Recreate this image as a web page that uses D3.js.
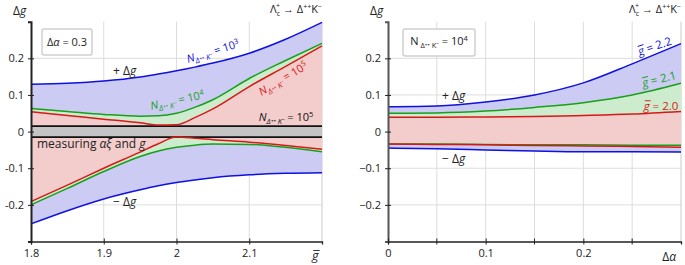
<!DOCTYPE html>
<html><head><meta charset="utf-8">
<script src="https://cdn.jsdelivr.net/npm/d3@7"></script>
<style>
body{margin:0;background:#fff;}
svg{font-family:"Open Sans","Noto Sans",sans-serif;}
</style></head>
<body><svg id="c" width="685" height="265"></svg>
<script>
// ---- Left panel data (x = gbar) ----
const gbar = [1.8, 1.85, 1.9, 1.95, 1.975, 2.0, 2.025, 2.05, 2.1, 2.15, 2.2];
const blueUpL  = [0.129, 0.132, 0.138, 0.149, 0.157, 0.166, 0.176, 0.187, 0.214, 0.252, 0.298];
const blueLoL  = [-0.252, -0.216, -0.184, -0.159, -0.148, -0.139, -0.132, -0.126, -0.118, -0.114, -0.112];
const greenUpL = [0.063, 0.055, 0.047, 0.042, 0.043, 0.050, 0.066, 0.087, 0.145, 0.194, 0.241];
const greenLoL = [-0.200, -0.155, -0.109, -0.068, -0.053, -0.043, -0.037, -0.034, -0.035, -0.043, -0.055];
const redUpL   = [0.054, 0.044, 0.034, 0.024, 0.018, 0.019, 0.038, 0.062, 0.123, 0.178, 0.234];
const redLoL   = [-0.191, -0.146, -0.100, -0.056, -0.033, -0.015, -0.018, -0.022, -0.029, -0.038, -0.048];
const bandLimits = [-0.015, 0.015];
const xTicksL = [1.8, 1.9, 2.0, 2.1];
const xTickLabelsL = ["1.8", "1.9", "2", "2.1"];
const yTicks = [-0.2, -0.1, 0, 0.1, 0.2];
const yTickLabelsL = ["-0.2", "-0.1", "0", "0.1", "0.2"];
const yTickLabelsR = ["\u22120.2", "\u22120.1", "0", "0.1", "0.2"];

// ---- Right panel data (x = delta alpha) ----
const dalpha = [0, 0.05, 0.1, 0.15, 0.2, 0.25, 0.3];
const blueUpR  = [0.068, 0.070, 0.081, 0.100, 0.133, 0.185, 0.240];
const blueLoR  = [-0.045, -0.047, -0.050, -0.053, -0.055, -0.055, -0.056];
const greenUpR = [0.050, 0.051, 0.056, 0.066, 0.079, 0.100, 0.132];
const greenLoR = [-0.034, -0.034, -0.035, -0.036, -0.036, -0.037, -0.037];
const redUpR   = [0.039, 0.039, 0.040, 0.041, 0.044, 0.048, 0.055];
const redLoR   = [-0.034, -0.035, -0.036, -0.038, -0.039, -0.041, -0.043];
const xTicksR = [0, 0.1, 0.2];
const xTickLabelsR = ["0", "0.1", "0.2"];
const xMinorR = [0.05, 0.15, 0.25];

const C = {blue:"#1010e0", green:"#18a018", red:"#d81818",
  blueF:"#cbcbf3", greenF:"#cdeccd", redF:"#f3cccc", grid:"#dddddd"};

const svg = d3.select("#c");

function overlineFirstChar(parentG, textSel, col, size){
  const node = textSel.node();
  const ext = node.getExtentOfChar(0);
  const base = ext.y + ext.height * 0.78;
  const yy = base - size * 0.78;
  parentG.append("line").attr("x1", ext.x + 1.2).attr("x2", ext.x + ext.width + 1.2)
    .attr("y1", yy).attr("y2", yy).attr("stroke", col).attr("stroke-width", 0.9);
}

function panel(opt){
  const g = svg.append("g");
  const x = d3.scaleLinear().domain(opt.xdom).range(opt.xr);
  const y = d3.scaleLinear().domain([-0.3, 0.3]).range([241.5, 21.7]);
  g.selectAll(".gx").data(opt.grid).join("line")
    .attr("x1", d=>x(d)).attr("x2", d=>x(d)).attr("y1", y(0.3)).attr("y2", y(-0.3))
    .attr("stroke", C.grid).attr("stroke-width", 1);
  g.selectAll(".gy").data(yTicks).join("line")
    .attr("x1", opt.xr[0]).attr("x2", opt.xr[1]).attr("y1", d=>y(d)).attr("y2", d=>y(d))
    .attr("stroke", C.grid).attr("stroke-width", 1);
  g.append("line").attr("x1", opt.xr[1]).attr("x2", opt.xr[1]).attr("y1", y(0.3)).attr("y2", y(-0.3))
    .attr("stroke", "#d4d4d4").attr("stroke-width", 1.2);
  const xs = opt.xs;
  const curve = d3.curveMonotoneX;
  const area = (lo, hi, col) => g.append("path")
    .attr("d", d3.area().x((d,i)=>x(xs[i])).y0((d,i)=>y(lo[i])).y1((d,i)=>y(hi[i])).curve(curve)(xs))
    .attr("fill", col).attr("stroke", "none");
  area(opt.bLo, opt.bUp, C.blueF);
  area(opt.gLo, opt.gUp, C.greenF);
  area(opt.rLo, opt.rUp, C.redF);
  if (opt.band){
    g.append("rect").attr("x", opt.xr[0]).attr("width", opt.xr[1]-opt.xr[0])
      .attr("y", y(bandLimits[1])).attr("height", y(bandLimits[0])-y(bandLimits[1]))
      .attr("fill", "#c4c4c4");
    bandLimits.forEach(v => g.append("line").attr("x1", opt.xr[0]).attr("x2", opt.xr[1])
      .attr("y1", y(v)).attr("y2", y(v)).attr("stroke", "#111").attr("stroke-width", 1.6));
  }
  const line = (arr, col) => g.append("path")
    .attr("d", d3.line().x((d,i)=>x(xs[i])).y((d,i)=>y(arr[i])).curve(curve)(xs))
    .attr("fill", "none").attr("stroke", col).attr("stroke-width", 1.5);
  line(opt.bUp, C.blue); line(opt.bLo, C.blue);
  line(opt.gUp, C.green); line(opt.gLo, C.green);
  line(opt.rUp, C.red); line(opt.rLo, C.red);

  const ya = g.append("g").attr("transform", `translate(${opt.xr[0]},0)`)
    .call(d3.axisLeft(y).tickValues(yTicks).tickFormat((d,i)=>opt.yLabels[i]).tickSizeOuter(0).tickSize(3));
  ya.select(".domain").attr("stroke", opt.yAxisCol).attr("stroke-width", 2);
  ya.selectAll(".tick line").attr("x1", -3).attr("x2", 3).attr("stroke", "#222");
  ya.selectAll(".tick text").attr("font-size", 11).attr("fill", "#222").attr("x", -7)
    .attr("font-family", "Open Sans, sans-serif");
  const xa = g.append("g").attr("transform", `translate(0,${y(-0.3)})`)
    .call(d3.axisBottom(x).tickValues(opt.xt).tickFormat((d,i)=>opt.xtl[i]).tickSizeOuter(0).tickSize(3));
  xa.select(".domain").attr("stroke", "#222").attr("stroke-width", 1.3);
  xa.selectAll(".tick line").attr("y1", -3).attr("y2", 3).attr("stroke", "#222");
  xa.selectAll(".tick text").attr("font-size", 11).attr("fill", "#222").attr("y", 8)
    .attr("font-family", "Open Sans, sans-serif");
  if (opt.minor){
    g.selectAll(".mn").data(opt.minor).join("line")
      .attr("x1", d=>x(d)).attr("x2", d=>x(d)).attr("y1", y(-0.3)-3).attr("y2", y(-0.3)+3)
      .attr("stroke", "#222");
  }
  const yl = g.append("text").attr("x", opt.xr[0]-18).attr("y", 15).attr("font-size", 12).attr("fill", "#222");
  yl.append("tspan").text("\u0394");
  yl.append("tspan").attr("font-style", "italic").text("g");
  const t = g.append("text").attr("x", opt.xr[1]).attr("y", 13).attr("text-anchor", "end")
    .attr("font-size", 11).attr("fill", "#222");
  t.append("tspan").text("\u039B");
  t.append("tspan").attr("font-size", 7).attr("dy", 3).text("c");
  t.append("tspan").attr("font-size", 7).attr("dy", -8).attr("dx", -4).text("+");
  t.append("tspan").attr("dy", 5).text(" \u2192 \u0394");
  t.append("tspan").attr("font-size", 7).attr("dy", -4).text("++");
  t.append("tspan").attr("dy", 4).text("K");
  t.append("tspan").attr("font-size", 7).attr("dy", -4).text("\u2212");
  return {g, x, y};
}

function nLabel(g, px, py, rot, col, exp){
  const t = g.append("text").attr("transform", `translate(${px},${py}) rotate(${rot})`)
    .attr("font-size", 11).attr("fill", col).attr("text-anchor", "middle");
  t.append("tspan").attr("font-style", "italic").text("N");
  t.append("tspan").attr("font-size", 7.5).attr("dy", 3).attr("font-style", "italic").text("\u0394\u207A\u207A K\u207B");
  t.append("tspan").attr("dy", -3).text(" = 10");
  t.append("tspan").attr("font-size", 7.5).attr("dy", -4).text(exp);
  return t;
}
function gLabel(g, px, py, rot, col, val){
  const gg = g.append("g").attr("transform", `translate(${px},${py}) rotate(${rot})`);
  const t = gg.append("text").attr("font-size", 11.5).attr("fill", col).attr("text-anchor", "middle");
  t.append("tspan").attr("font-style", "italic").text("g");
  t.append("tspan").text(" = " + val);
  overlineFirstChar(gg, t, col, 11.5);
}
function pmLabel(g, px, py, sign){
  const t = g.append("text").attr("x", px).attr("y", py).attr("font-size", 12).attr("fill", "#222");
  t.append("tspan").text(sign + " \u0394");
  t.append("tspan").attr("font-style", "italic").text("g");
}

// ---- Left panel ----
const L = panel({xdom:[1.8, 2.2], xr:[31, 322], xs:gbar, grid:[1.9, 2.0, 2.1],
  bUp:blueUpL, bLo:blueLoL, gUp:greenUpL, gLo:greenLoL, rUp:redUpL, rLo:redLoL, band:true,
  xt:xTicksL, xtl:xTickLabelsL, yLabels:yTickLabelsL, yAxisCol:"#222"});
{
  const g = L.g;
  const bl = g.append("text").attr("x", 312).attr("y", 260).attr("font-size", 12.5).attr("fill", "#222")
    .attr("font-style", "italic").text("g");
  overlineFirstChar(g, bl, "#222", 12.5);
  g.append("rect").attr("x", 42).attr("y", 29).attr("width", 50).attr("height", 26).attr("rx", 2)
    .attr("fill", "#fff").attr("stroke", "#cfcfcf").attr("stroke-width", 1.5);
  const lt = g.append("text").attr("x", 67).attr("y", 46).attr("text-anchor", "middle").attr("font-size", 11).attr("fill", "#222");
  lt.append("tspan").text("\u0394");
  lt.append("tspan").attr("font-style", "italic").text("\u03B1");
  lt.append("tspan").text(" = 0.3");
  pmLabel(g, 113, 75, "+");
  pmLabel(g, 113, 206, "\u2212");
  const m = g.append("text").attr("x", 37).attr("y", 148).attr("font-size", 12).attr("fill", "#222");
  m.append("tspan").text("measuring ");
  m.append("tspan").attr("font-style", "italic").text("\u03B1\u03BE");
  m.append("tspan").text(" and ");
  m.append("tspan").attr("font-style", "italic").text("g");
  nLabel(g, 214, 55, -17, C.blue, "3");
  nLabel(g, 178, 104, -12, C.green, "4");
  nLabel(g, 285, 82, -31, C.red, "5");
  nLabel(g, 286, 121, 0, "#111", "5");
}

// ---- Right panel ----
const R = panel({xdom:[0, 0.3], xr:[388, 681], xs:dalpha, grid:[0.05, 0.1, 0.15, 0.2, 0.25],
  bUp:blueUpR, bLo:blueLoR, gUp:greenUpR, gLo:greenLoR, rUp:redUpR, rLo:redLoR, band:false,
  xt:xTicksR, xtl:xTickLabelsR, minor:xMinorR, yLabels:yTickLabelsR, yAxisCol:"#555"});
{
  const g = R.g;
  const al = g.append("text").attr("x", 676).attr("y", 261).attr("text-anchor", "end").attr("font-size", 12).attr("fill", "#222");
  al.append("tspan").text("\u0394");
  al.append("tspan").attr("font-style", "italic").text("\u03B1");
  g.append("rect").attr("x", 403).attr("y", 29).attr("width", 72).attr("height", 27).attr("rx", 2)
    .attr("fill", "#fff").attr("stroke", "#cfcfcf").attr("stroke-width", 1.5);
  const lt = g.append("text").attr("x", 439).attr("y", 45).attr("text-anchor", "middle").attr("font-size", 11).attr("fill", "#222");
  lt.append("tspan").text("N");
  lt.append("tspan").attr("font-size", 7.5).attr("dy", 3).text(" \u0394\u207A\u207A K\u207B");
  lt.append("tspan").attr("dy", -3).text(" = 10");
  lt.append("tspan").attr("font-size", 7.5).attr("dy", -4).text("4");
  pmLabel(g, 442, 100, "+");
  pmLabel(g, 442, 163, "\u2212");
  gLabel(g, 656, 50, -19, C.blue, "2.2");
  gLabel(g, 660, 83, -14, C.green, "2.1");
  gLabel(g, 661, 110, 0, C.red, "2.0");
}
</script></body></html>
